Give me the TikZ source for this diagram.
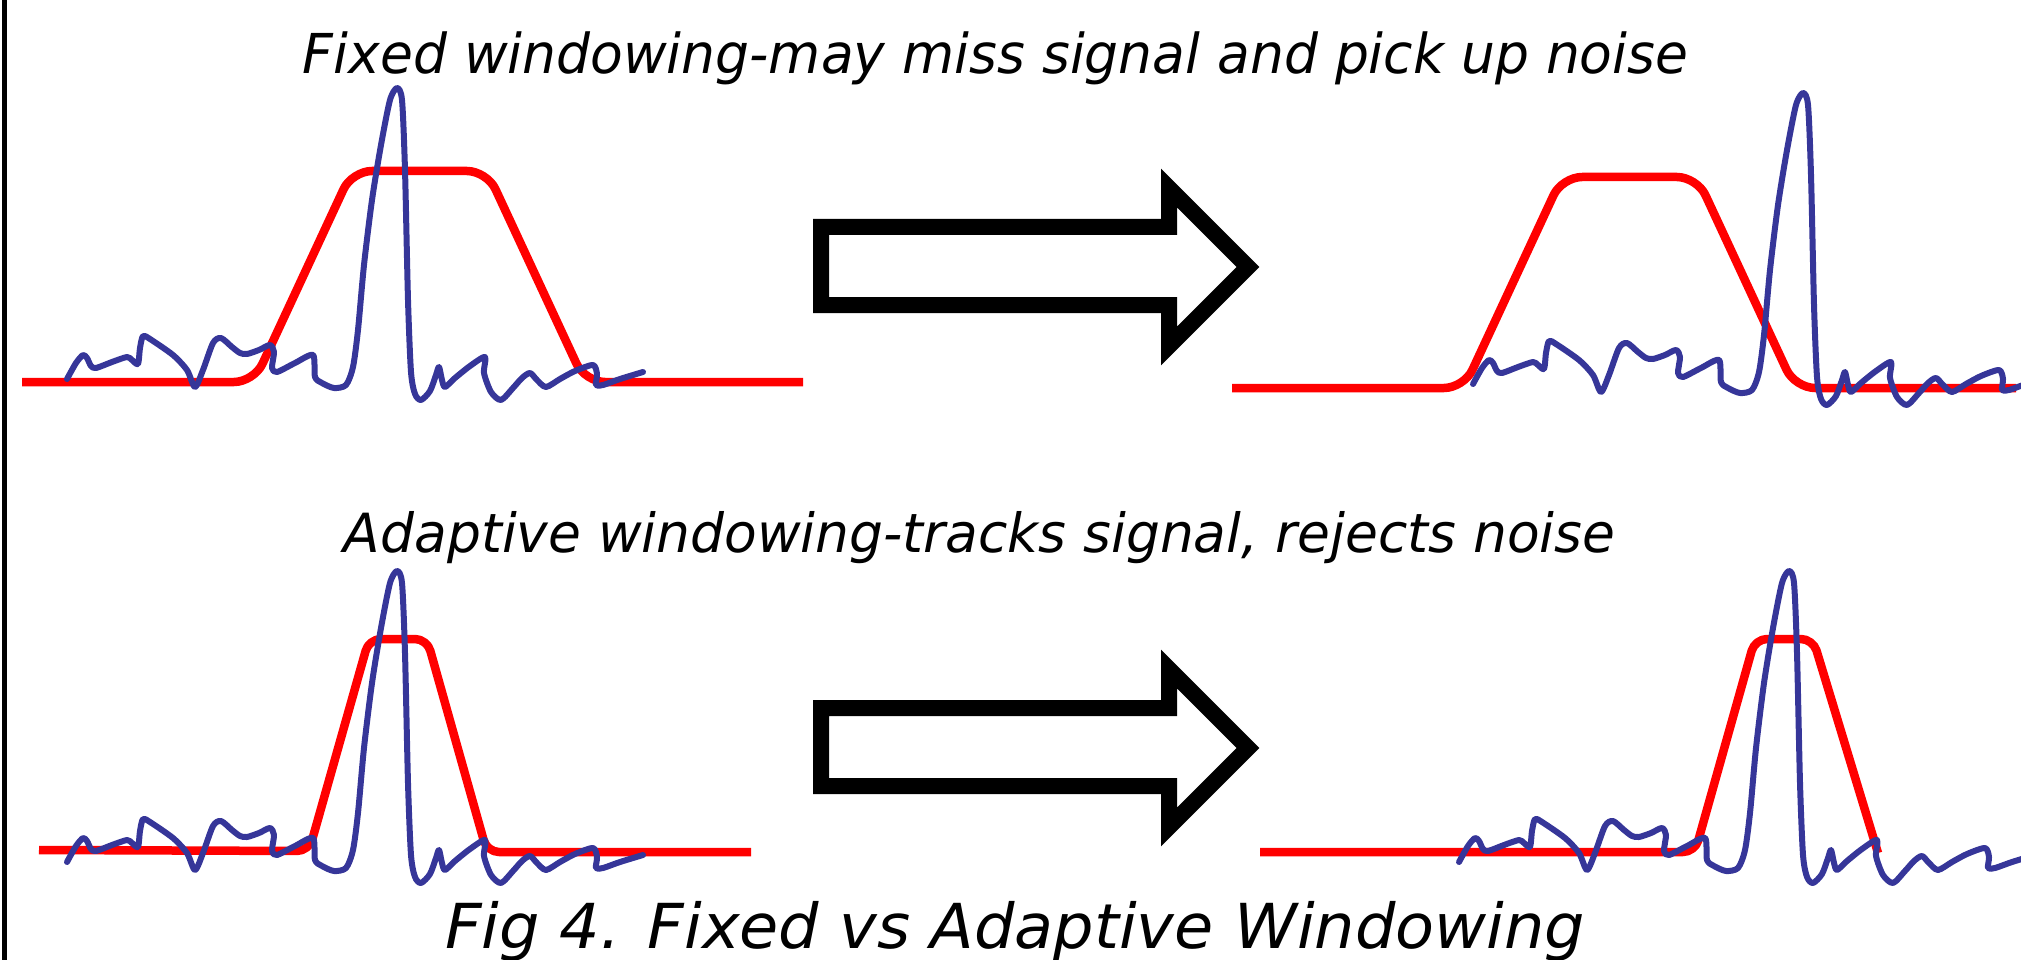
\documentclass[tikz,border=0pt]{standalone}
\usepackage{fontspec}
\usepackage{graphicx}
\setmainfont{DejaVu Sans}
\definecolor{waveblue}{RGB}{54,54,153}
\begin{document}
\begin{tikzpicture}[x=1pt,y=-1pt,
  redwin/.style={draw=red, line width=8.5pt, line join=round},
  wavestyle/.style={draw=waveblue, line width=6pt, line cap=round, line join=round},
  blockarrow/.style={draw=black, line width=16pt, line join=miter, miter limit=10},
  caption/.style={anchor=base, inner sep=0pt, font=\itshape},
  bluewave/.pic={
    \draw[wavestyle] plot[smooth, tension=0.45] coordinates {
      (67,379) (76,363) (83,355) (87,358) (91,366) (96,368) (112,362) (127,357)
      (132,360) (138,364) (140,348) (143,336) (150,339) (173,355) (187,370)
      (195,387) (203,370) (213,343) (221,338) (232,347) (240,353) (247,354)
      (259,350) (270,345) (274,352) (272,368) (277,372) (295,363) (313,355)
      (315,377) (322,383) (334,388) (346,385) (353,367) (358,330) (364,265)
      (372,200) (381,145) (390,100) (397,88) (402,100) (405,170) (408,300)
      (411,372) (415,394) (421,400) (430,391) (436,375) (439,367) (442,380)
      (445,387) (455,378) (470,366) (485,357) (484,373) (491,392) (501,400)
      (513,388) (522,378) (530,373) (537,380) (546,387) (560,379) (575,371)
      (593,365) (597,374) (596,385) (603,385) (620,379) (643,372)};
  }]
\useasboundingbox (0,0) rectangle (2021,960);
\clip (0,0) rectangle (2021,960);

% left border
\draw[line width=5pt] (4,-5) -- (4,965);

% captions
\node[caption] (t1) at (995.5,74) {\resizebox{1385pt}{\height}{\fontsize{55}{60}\selectfont Fixed windowing-may miss signal and pick up noise}};
\node[caption] (t2) at (979.5,552) {\resizebox{1271pt}{\height}{\fontsize{54}{60}\selectfont Adaptive windowing-tracks signal, rejects noise}};
\node[caption] (t3) at (1015,948) {\resizebox{1140pt}{\height}{\fontsize{62}{70}\selectfont Fig 4. Fixed vs Adaptive Windowing}};

% red windows
\draw[redwin, rounded corners=20pt] (22,382) -- (254,382) -- (352,171) -- (487,171) -- (585,382) -- (803,382);
\draw[redwin, rounded corners=20pt] (1232,388) -- (1464,388) -- (1562,177) -- (1697,177) -- (1795,388) -- (2016,388);
\draw[redwin, rounded corners=12pt] (39,850) -- (309,851) -- (369,639) -- (427,639) -- (487,852) -- (751,852);
\draw[redwin, rounded corners=12pt] (1260,852) -- (1695,852) -- (1755,639) -- (1813,639) -- (1878,853);

% blue signals
\pic at (0,0) {bluewave};
\pic at (1406,5) {bluewave};
\pic at (0,483) {bluewave};
\pic at (1392,483) {bluewave};

% block arrows
\draw[blockarrow] (821,227) -- (1169,227) -- (1169,188) -- (1248,267) -- (1169,346) -- (1169,305) -- (821,305) -- cycle;
\draw[blockarrow] (821,708) -- (1169,708) -- (1169,669) -- (1248,748) -- (1169,827) -- (1169,786) -- (821,786) -- cycle;
\end{tikzpicture}
\end{document}
